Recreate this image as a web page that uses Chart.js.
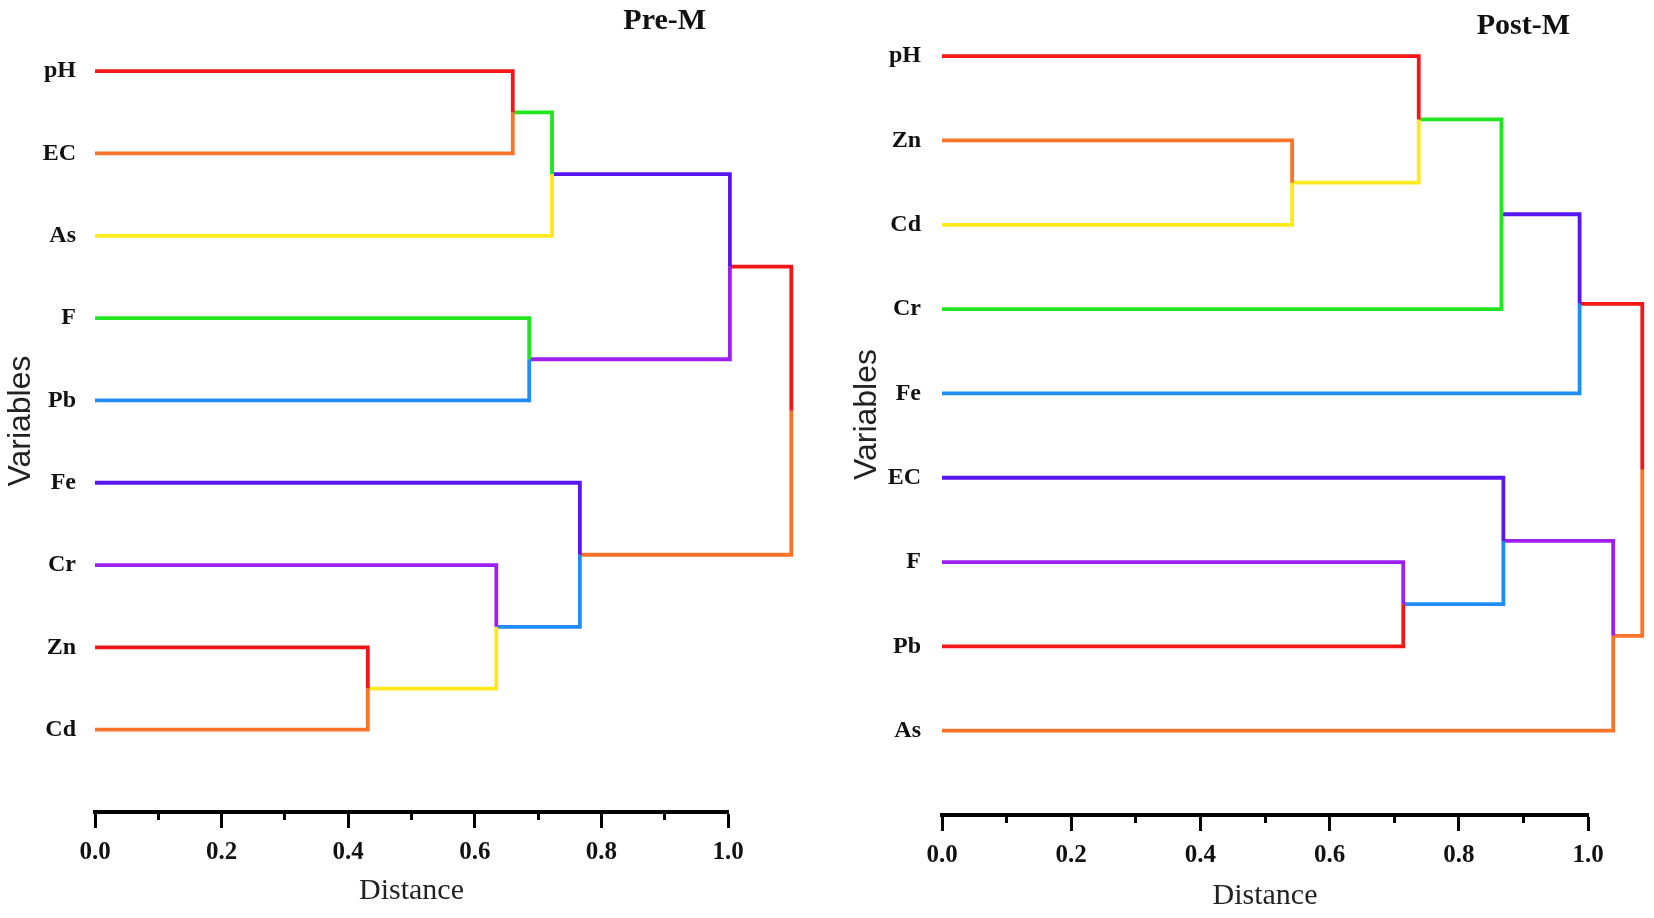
<!DOCTYPE html>
<html>
<head>
<meta charset="utf-8">
<script src="https://cdn.jsdelivr.net/npm/chart.js@4/dist/chart.umd.min.js"></script>
<style>
  body { margin: 0; background: #fff; }
  canvas { position: absolute; top: 0; }
  #preChart { left: 0; }
  #postChart { left: 846px; }
</style>
</head>
<body>
<canvas id="preChart" width="812" height="918"></canvas>
<canvas id="postChart" width="808" height="918"></canvas>
<script>
// Pre-M dendrogram: leaves top to bottom, then joins (node 9, 10, ...)
const preLeaves = ['pH', 'EC', 'As', 'F', 'Pb', 'Fe', 'Cr', 'Zn', 'Cd'];
const preLeafColors = ['red', 'orange', 'yellow', 'green', 'blue', 'indigo', 'purple', 'red', 'orange'];
const preJoins = [[0, 1], [9, 2], [3, 4], [10, 11], [7, 8], [6, 13], [5, 14], [12, 15]];
const preHeights = [0.66, 0.722, 0.686, 1.003, 0.431, 0.634, 0.766, 1.10];
const preJoinColors = ['green', 'indigo', 'purple', 'red', 'yellow', 'blue', 'orange', null];

// Post-M dendrogram
const postLeaves = ['pH', 'Zn', 'Cd', 'Cr', 'Fe', 'EC', 'F', 'Pb', 'As'];
const postLeafColors = ['red', 'orange', 'yellow', 'green', 'blue', 'indigo', 'purple', 'red', 'orange'];
const postJoins = [[1, 2], [0, 9], [10, 3], [11, 4], [6, 7], [5, 13], [14, 8], [12, 15]];
const postHeights = [0.542, 0.738, 0.866, 0.987, 0.714, 0.869, 1.039, 1.084];
const postJoinColors = ['yellow', 'green', 'indigo', 'red', 'blue', 'purple', 'orange', null];

const distanceTicks = ['0.0', '0.2', '0.4', '0.6', '0.8', '1.0'];

const palette = {
  red: '#f41616',
  orange: '#fa7328',
  yellow: '#fde91c',
  green: '#20e620',
  indigo: '#5817f0',
  purple: '#9d1ff2',
  blue: '#1f8cf7',
};

const serif = '"Liberation Serif", "Times New Roman", serif';

// turns leaves + joins into one L-shaped line per node (from its parent down to it)
function buildLinks(leaves, leafColors, joins, heights, joinColors) {
  const n = leaves.length;
  const xs = leaves.map(() => 0);
  const ys = leaves.map((_, i) => i);
  const colors = leafColors.slice();
  const parent = [];
  joins.forEach((pair, k) => {
    const id = n + k;
    xs[id] = heights[k];
    ys[id] = (ys[pair[0]] + ys[pair[1]]) / 2;
    colors[id] = joinColors[k];
    parent[pair[0]] = id;
    parent[pair[1]] = id;
  });

  const datasets = [];
  for (let i = 0; i < xs.length; i++) {
    const p = parent[i];
    if (p === undefined) continue;
    // x goes right to left so the points count as unsorted and none past the axis end get dropped
    datasets.push({
      data: [
        {x: xs[p], y: ys[p]},
        {x: xs[p], y: ys[i]},
        {x: xs[i], y: ys[i]},
      ],
      borderColor: palette[colors[i]],
      borderWidth: 3.8,
      borderCapStyle: 'butt',
      borderJoinStyle: 'miter',
      pointRadius: 0,
      showLine: true,
      clip: false,
    });
  }
  return datasets;
}

const panelTitle = {
  id: 'panelTitle',
  afterDraw(chart, args, opts) {
    const ctx = chart.ctx;
    ctx.save();
    ctx.font = 'bold 30px ' + serif;
    ctx.fillStyle = '#111';
    ctx.textAlign = 'center';
    ctx.textBaseline = 'middle';
    ctx.fillText(opts.text, chart.scales.x.getPixelForValue(opts.at), opts.y);
    ctx.restore();
  },
};

function isMinor(value) {
  return Math.round(value * 10) % 2 === 1;
}

function makeChart(id, leaves, datasets, cfg) {
  return new Chart(document.getElementById(id).getContext('2d'), {
    type: 'scatter',
    data: {datasets: datasets},
    plugins: [panelTitle],
    options: {
      responsive: false,
      animation: false,
      layout: {padding: {top: cfg.top, right: cfg.right, bottom: 0, left: 0}},
      plugins: {
        legend: {display: false},
        tooltip: {enabled: false},
        panelTitle: {text: cfg.title, at: 0.9, y: cfg.titleY},
      },
      scales: {
        x: {
          type: 'linear',
          min: 0,
          max: 1,
          afterFit: scale => { scale.height = cfg.xHeight; },
          border: {display: true, color: '#000', width: 4},
          grid: {
            drawOnChartArea: false,
            drawTicks: true,
            tickLength: 16,
            tickWidth: 3,
            tickColor: '#000',
            tickBorderDash: ctx => (ctx.tick && isMinor(ctx.tick.value) ? [6, 40] : []),
          },
          ticks: {
            stepSize: 0.1,
            autoSkip: false,
            maxRotation: 0,
            padding: 10,
            color: '#111',
            font: {family: serif, size: 25, weight: 'bold'},
            callback: v => (isMinor(v) ? '' : distanceTicks[Math.round(v * 5)]),
          },
          title: {
            display: true,
            text: 'Distance',
            color: '#222',
            font: {family: serif, size: 30},
            padding: {top: 0, bottom: cfg.distPad},
          },
        },
        y: {
          type: 'linear',
          reverse: true,
          min: -0.5,
          max: 9,
          afterFit: scale => {
            scale.width = cfg.yWidth;
            scale.paddingTop = 0;
            scale.paddingBottom = 0;
          },
          afterBuildTicks: scale => { scale.ticks = leaves.map((_, i) => ({value: i})); },
          border: {display: false},
          grid: {display: false, drawTicks: false},
          ticks: {
            padding: cfg.labelPad,
            color: '#111',
            font: {family: serif, size: 24, weight: 'bold'},
            callback: v => leaves[v],
          },
          title: {
            display: true,
            text: 'Variables',
            color: '#222',
            font: {family: '"Liberation Sans", Arial, sans-serif', size: 32},
            padding: {top: 2, bottom: 0},
          },
        },
      },
    },
  });
}

makeChart('preChart', preLeaves,
  buildLinks(preLeaves, preLeafColors, preJoins, preHeights, preJoinColors),
  {title: 'Pre-M', titleY: 21, top: 30, right: 84, xHeight: 106, yWidth: 95, labelPad: 19, distPad: 9});

makeChart('postChart', postLeaves,
  buildLinks(postLeaves, postLeafColors, postJoins, postHeights, postJoinColors),
  {title: 'Post-M', titleY: 26, top: 14, right: 66, xHeight: 103, yWidth: 96, labelPad: 21, distPad: 4});
</script>
</body>
</html>
